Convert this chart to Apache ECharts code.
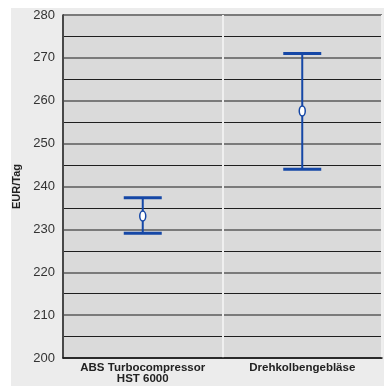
<!DOCTYPE html>
<html><head><meta charset="utf-8">
<script src="https://cdn.jsdelivr.net/npm/echarts@6/dist/echarts.min.js"></script>
<style>
html,body{margin:0;padding:0;background:#fff;}
#bg{position:absolute;left:11px;top:8px;width:373px;height:378px;background:#ececec;}
#chart{position:absolute;left:0;top:0;width:384px;height:386px;}
</style></head>
<body><div id="bg"></div><div id="chart"></div>
<script>
const categories = ['ABS Turbocompressor\nHST 6000', 'Drehkolbengebläse'];
const lowValues = [229.1, 244.0];
const midValues = [233.1, 257.6];
const highValues = [237.4, 271.0];
const yTicks = [200, 210, 220, 230, 240, 250, 260, 270, 280];

const chart = echarts.init(document.getElementById('chart'), null, {renderer:'canvas'});
const blue = '#1547a6';
const data = categories.map((c,i)=>[i, lowValues[i], midValues[i], highValues[i]]);
chart.setOption({
  backgroundColor: 'transparent',
  animation: false,
  grid: {left: 63, top: 15, right: 2, bottom: 28, show: true, backgroundColor: '#dadada', borderWidth: 0},
  xAxis: {
    type: 'category', data: categories, boundaryGap: true,
    axisLine: {show: true, lineStyle: {color: '#111', width: 1.5}},
    axisTick: {show: false},
    axisLabel: {fontFamily: 'Liberation Sans, Arial', fontWeight: 'bold', fontSize: 11.5, color: '#222', margin: 4, lineHeight: 11, interval: 0},
    splitLine: {show: true, interval: 0, lineStyle: {color: '#efefef', width: 2}}
  },
  yAxis: {
    type: 'value', min: yTicks[0], max: yTicks[yTicks.length-1], interval: 10,
    name: 'EUR/Tag', nameLocation: 'middle', nameGap: 38,
    nameTextStyle: {fontFamily: 'Liberation Sans, Arial', fontWeight: 'bold', fontSize: 11, color: '#222'},
    axisLine: {show: true, lineStyle: {color: '#111', width: 1.5}},
    axisTick: {show: false},
    axisLabel: {fontFamily: 'Liberation Sans, Arial', fontSize: 13, color: '#333', margin: 8},
    splitLine: {show: true, lineStyle: {color: '#7a7a7a', width: 2}},
    minorTick: {show: false, splitNumber: 2},
    minorSplitLine: {show: true, lineStyle: {color: '#1e1e1e', width: 1}}
  },
  series: [{
    type: 'custom',
    data: data,
    z: 10,
    renderItem: function(params, api){
      const x = api.value(0);
      const lo = api.coord([x, api.value(1)]);
      const mi = api.coord([x, api.value(2)]);
      const hi = api.coord([x, api.value(3)]);
      const hw = 19;
      return {type: 'group', children: [
        {type: 'line', shape: {x1: hi[0], y1: hi[1], x2: lo[0], y2: lo[1]}, style: {stroke: blue, lineWidth: 2}},
        {type: 'line', shape: {x1: hi[0]-hw, y1: hi[1], x2: hi[0]+hw, y2: hi[1]}, style: {stroke: blue, lineWidth: 3}},
        {type: 'line', shape: {x1: lo[0]-hw, y1: lo[1], x2: lo[0]+hw, y2: lo[1]}, style: {stroke: blue, lineWidth: 3}},
        {type: 'ellipse', shape: {cx: mi[0], cy: mi[1], rx: 3, ry: 5}, style: {fill: '#fff', stroke: blue, lineWidth: 1.5}}
      ]};
    }
  }]
});
</script></body></html>
